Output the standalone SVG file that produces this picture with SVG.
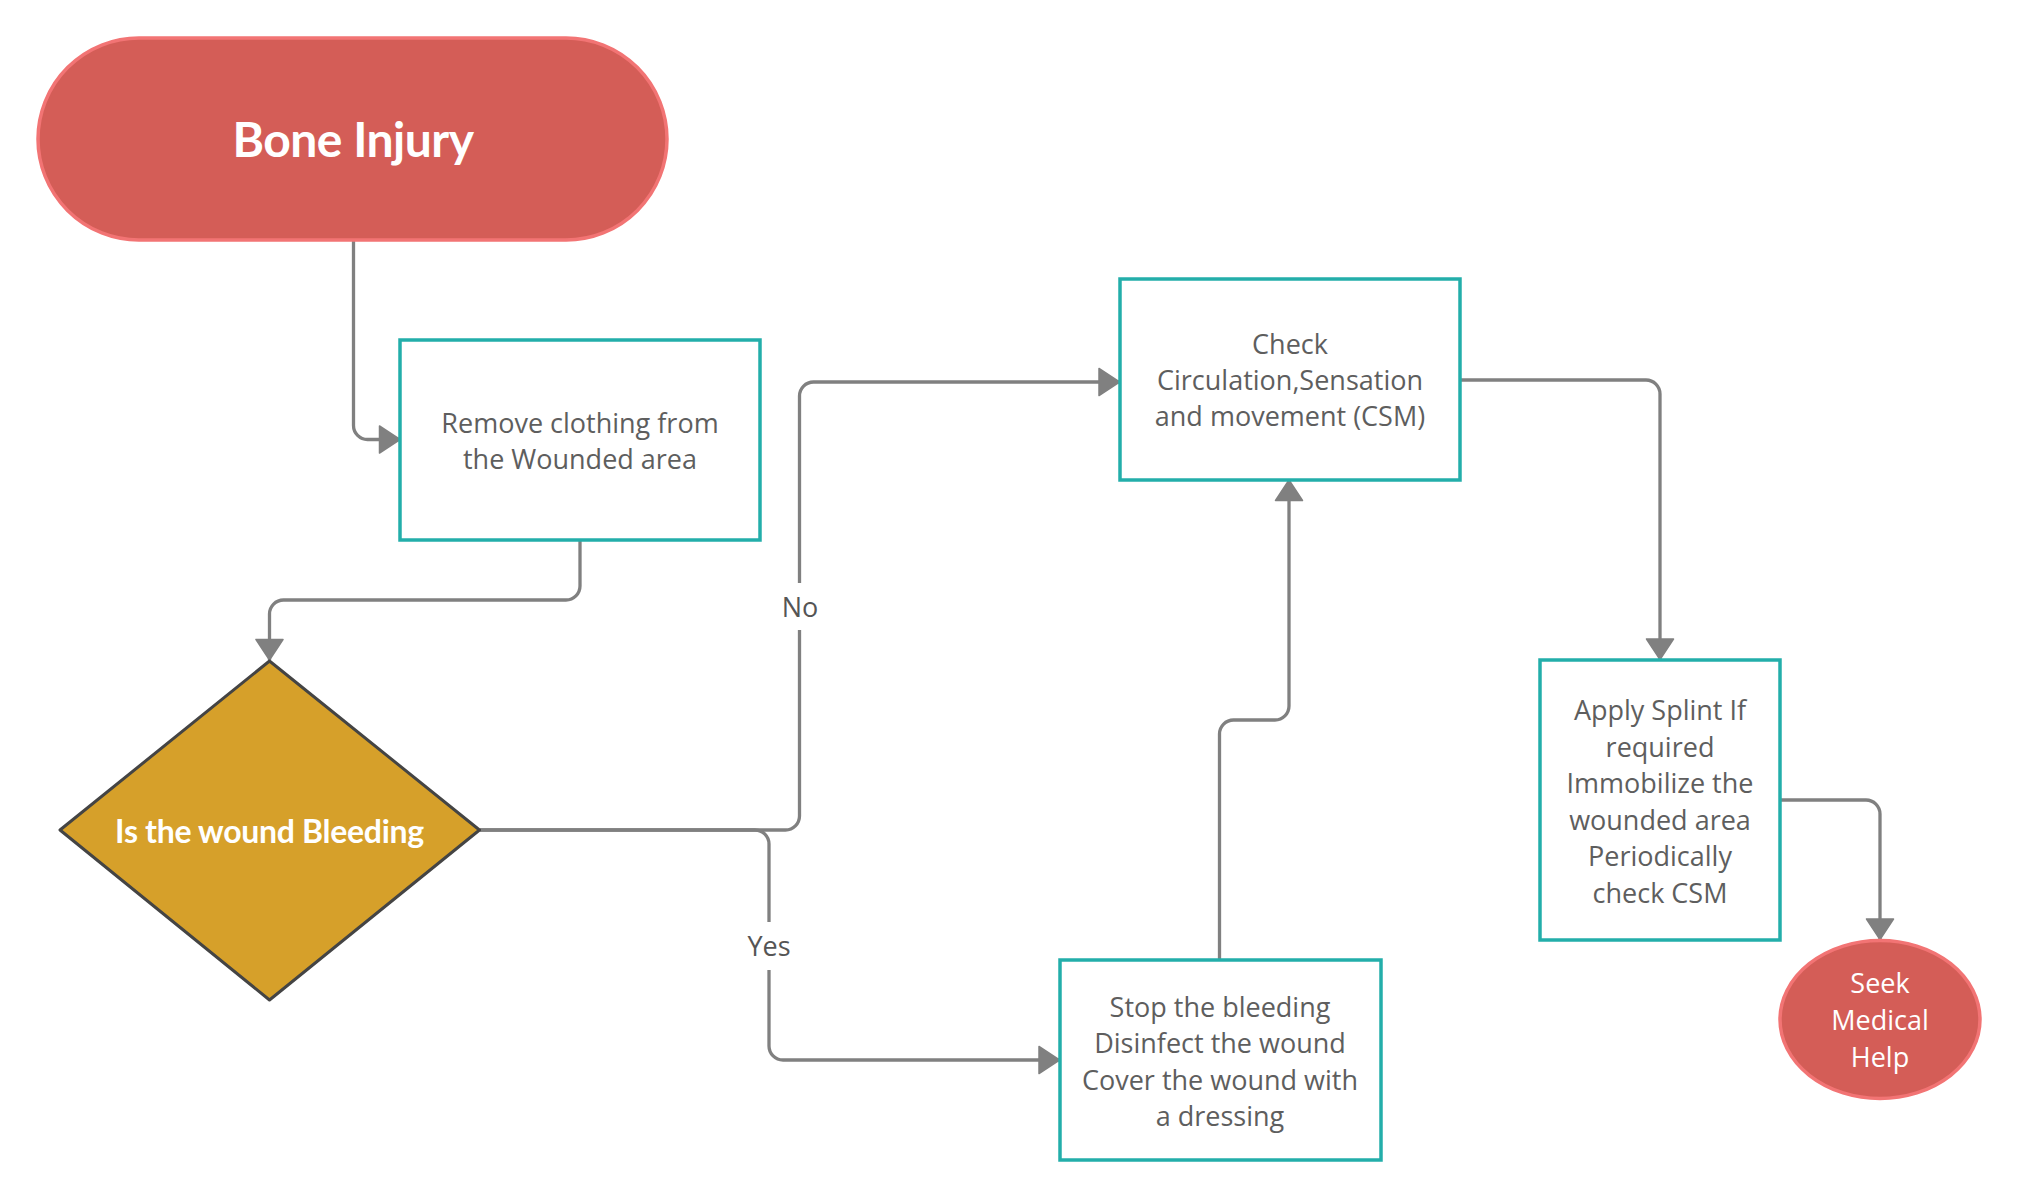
<svg xmlns="http://www.w3.org/2000/svg" width="2020" height="1201" viewBox="0 0 2020 1201">
<style>
.conn{fill:none;stroke:#808080;stroke-width:3.3;}
.box{fill:#ffffff;stroke:#23aeaa;stroke-width:3.5;}
.term{fill:#d45d57;stroke:#f27474;stroke-width:3.5;}
.txt{font-family:"Open Sans","Noto Sans",sans-serif;font-size:27px;fill:#5e5e5e;text-anchor:middle;}
.wtxt{font-family:"Open Sans","Noto Sans",sans-serif;font-size:27px;fill:#ffffff;text-anchor:middle;}
.btxt{font-family:Lato,"Open Sans",sans-serif;font-weight:bold;fill:#ffffff;text-anchor:middle;}
.lbl{font-family:"Open Sans","Noto Sans",sans-serif;font-size:27px;fill:#555555;text-anchor:middle;}
</style>
<defs>
<marker id="arr" markerUnits="userSpaceOnUse" markerWidth="24" markerHeight="30" viewBox="0 0 24 30" refX="22" refY="15" orient="auto">
<path d="M1.5,1.5 L22,15 L1.5,28.5 Z" fill="#808080" stroke="#808080" stroke-width="1.5" stroke-linejoin="round"/>
</marker>
</defs>
<rect x="0" y="0" width="2020" height="1201" fill="#ffffff"/>
<g id="connectors">
<path class="conn" d="M353.5,241 V425.5 A14,14 0 0 0 367.5,439.5 H400" marker-end="url(#arr)"/>
<path class="conn" d="M580,540 V586 A14,14 0 0 1 566,600 H283.5 A14,14 0 0 0 269.5,614 V660" marker-end="url(#arr)"/>
<path class="conn" d="M480,830 H785.5 A14,14 0 0 0 799.5,816 V396 A14,14 0 0 1 813.5,382 H1119.5" marker-end="url(#arr)"/>
<path class="conn" d="M480,830 H755 A14,14 0 0 1 769,844 V1046 A14,14 0 0 0 783,1060 H1059.5" marker-end="url(#arr)"/>
<path class="conn" d="M1219.5,960 V734 A14,14 0 0 1 1233.5,720 H1275 A14,14 0 0 0 1289,706 V480" marker-end="url(#arr)"/>
<path class="conn" d="M1460,380 H1646 A14,14 0 0 1 1660,394 V659.5" marker-end="url(#arr)"/>
<path class="conn" d="M1780,800 H1866 A14,14 0 0 1 1880,814 V939.5" marker-end="url(#arr)"/>
<rect x="780" y="583" width="40" height="47" fill="#ffffff"/>
<text class="lbl" x="800" y="617">No</text>
<rect x="745" y="922" width="48" height="48" fill="#ffffff"/>
<text class="lbl" x="769" y="956">Yes</text>
</g>
<g id="bone-injury">
<rect class="term" x="38" y="38" width="629" height="202" rx="101" ry="101"/>
<text class="btxt" x="353" y="157" font-size="48" letter-spacing="-0.5">Bone Injury</text>
</g>
<g id="remove-clothing">
<rect class="box" x="400" y="340" width="360" height="200"/>
<text class="txt" x="580" y="433">Remove clothing from</text>
<text class="txt" x="580" y="469">the Wounded area</text>
</g>
<g id="is-bleeding">
<polygon points="269.5,661 479.5,830 269.5,1000 60,830" fill="#d6a02a" stroke="#444444" stroke-width="3" stroke-linejoin="round"/>
<text class="btxt" x="269.5" y="843" font-size="32" letter-spacing="-0.3">Is the wound Bleeding</text>
</g>
<g id="check-csm">
<rect class="box" x="1120" y="279" width="340" height="201"/>
<text class="txt" x="1290" y="354">Check</text>
<text class="txt" x="1290" y="390">Circulation,Sensation</text>
<text class="txt" x="1290" y="426">and movement (CSM)</text>
</g>
<g id="stop-bleeding">
<rect class="box" x="1060" y="960" width="321" height="200"/>
<text class="txt" x="1220" y="1017">Stop the bleeding</text>
<text class="txt" x="1220" y="1053">Disinfect the wound</text>
<text class="txt" x="1220" y="1089.5">Cover the wound with</text>
<text class="txt" x="1220" y="1126">a dressing</text>
</g>
<g id="apply-splint">
<rect class="box" x="1540" y="660" width="240" height="280"/>
<text class="txt" x="1660" y="720">Apply Splint If</text>
<text class="txt" x="1660" y="756.5">required</text>
<text class="txt" x="1660" y="793">Immobilize the</text>
<text class="txt" x="1660" y="829.5">wounded area</text>
<text class="txt" x="1660" y="866">Periodically</text>
<text class="txt" x="1660" y="902.5">check CSM</text>
</g>
<g id="seek-help">
<ellipse class="term" cx="1880" cy="1019.5" rx="100" ry="79"/>
<text class="wtxt" x="1880" y="993">Seek</text>
<text class="wtxt" x="1880" y="1030">Medical</text>
<text class="wtxt" x="1880" y="1067">Help</text>
</g>
</svg>
